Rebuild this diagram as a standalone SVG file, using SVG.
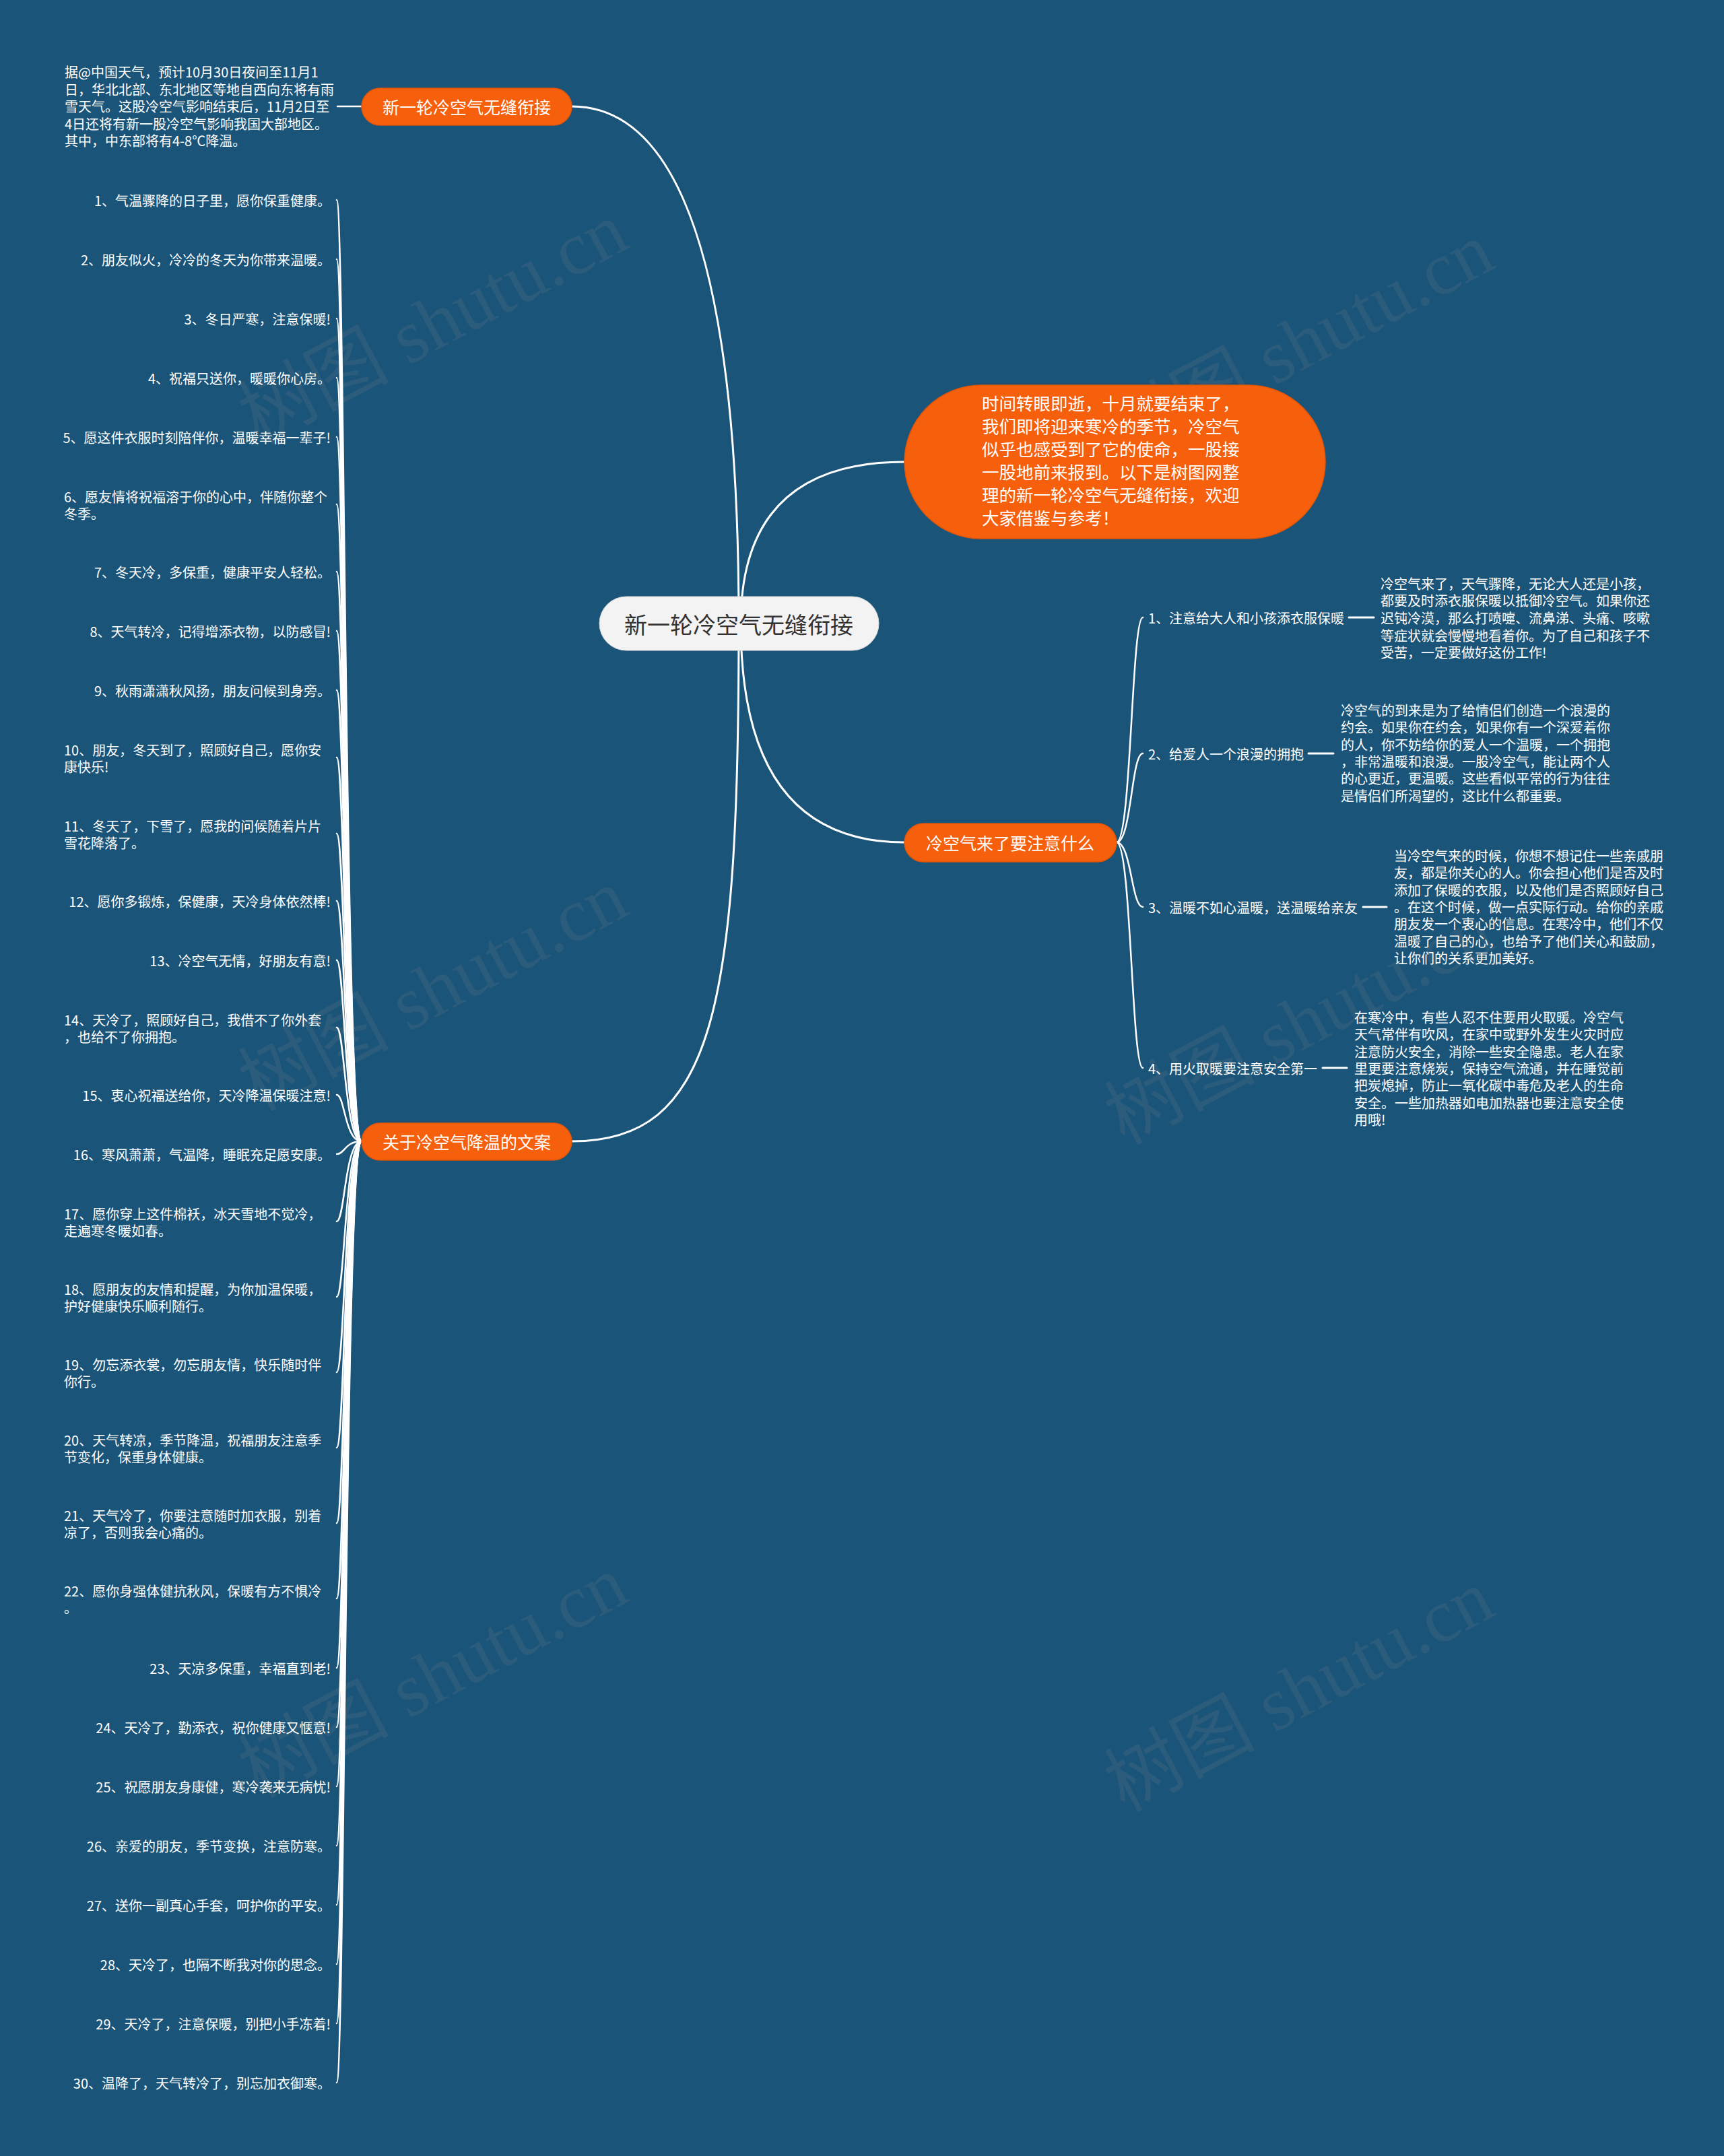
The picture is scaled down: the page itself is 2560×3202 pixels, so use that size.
<svg xmlns="http://www.w3.org/2000/svg" width="2560" height="3202" viewBox="0 0 2560 3202">
<style>
.t{font-family:"Noto Sans CJK SC","Noto Sans",sans-serif;fill:#ffffff}
.s20{font-size:20px}
.e{text-anchor:end}
.m{text-anchor:middle}
.c{dominant-baseline:central}
.ln{fill:none;stroke:#ffffff;stroke-width:2.5;stroke-linecap:round}
.main{stroke-width:3}
.org{fill:#f65f0b;stroke:#e2560a;stroke-width:1.5}
.wm{font-family:"Liberation Serif","Noto Sans CJK SC",serif;font-size:112px;fill:#8a8a8a;opacity:0.15}
</style>
<rect width="2560" height="3202" fill="#1b5479"/>
<g id="watermarks">
<text class="wm m c" transform="translate(643 480) rotate(-28)">树图 shutu.cn</text>
<text class="wm m c" transform="translate(1929 510) rotate(-28)">树图 shutu.cn</text>
<text class="wm m c" transform="translate(643 1470) rotate(-28)">树图 shutu.cn</text>
<text class="wm m c" transform="translate(1929 1520) rotate(-28)">树图 shutu.cn</text>
<text class="wm m c" transform="translate(643 2490) rotate(-28)">树图 shutu.cn</text>
<text class="wm m c" transform="translate(1929 2511) rotate(-28)">树图 shutu.cn</text>
</g>
<g id="connectors" class="ln">
<path class="main" d="M1097 926 Q1097 158 849 158"/>
<path class="main" d="M1100 926 Q1100 686 1343 686"/>
<path class="main" d="M1100 926 Q1100 1251 1343 1251"/>
<path class="main" d="M1097 926 C1097 1500 1060 1695 849 1695"/>
<path d="M537 158 H501"/>
<path d="M537 1695 C512 1695 512 297 500 297"/>
<path d="M537 1695 C512 1695 512 385 500 385"/>
<path d="M537 1695 C512 1695 512 473 500 473"/>
<path d="M537 1695 C512 1695 512 561 500 561"/>
<path d="M537 1695 C512 1695 512 649 500 649"/>
<path d="M537 1695 C512 1695 512 749 500 749"/>
<path d="M537 1695 C512 1695 512 849 500 849"/>
<path d="M537 1695 C512 1695 512 937 500 937"/>
<path d="M537 1695 C512 1695 512 1025 500 1025"/>
<path d="M537 1695 C512 1695 512 1125 500 1125"/>
<path d="M537 1695 C512 1695 512 1238 500 1238"/>
<path d="M537 1695 C512 1695 512 1338 500 1338"/>
<path d="M537 1695 C512 1695 512 1426 500 1426"/>
<path d="M537 1695 C512 1695 512 1526 500 1526"/>
<path d="M537 1695 C512 1695 512 1626 500 1626"/>
<path d="M537 1695 C512 1695 512 1714 500 1714"/>
<path d="M537 1695 C512 1695 512 1814 500 1814"/>
<path d="M537 1695 C512 1695 512 1926 500 1926"/>
<path d="M537 1695 C512 1695 512 2038 500 2038"/>
<path d="M537 1695 C512 1695 512 2150 500 2150"/>
<path d="M537 1695 C512 1695 512 2262 500 2262"/>
<path d="M537 1695 C512 1695 512 2374 500 2374"/>
<path d="M537 1695 C512 1695 512 2477 500 2477"/>
<path d="M537 1695 C512 1695 512 2565 500 2565"/>
<path d="M537 1695 C512 1695 512 2653 500 2653"/>
<path d="M537 1695 C512 1695 512 2741 500 2741"/>
<path d="M537 1695 C512 1695 512 2829 500 2829"/>
<path d="M537 1695 C512 1695 512 2917 500 2917"/>
<path d="M537 1695 C512 1695 512 3005 500 3005"/>
<path d="M537 1695 C512 1695 512 3093 500 3093"/>
<path d="M1658 1251 C1680 1251 1680 917 1697 917"/>
<path d="M1658 1251 C1680 1251 1680 1119 1697 1119"/>
<path d="M1658 1251 C1680 1251 1680 1347 1697 1347"/>
<path d="M1658 1251 C1680 1251 1680 1586 1697 1586"/>
<path class="main" d="M2003 917 H2040"/>
<path class="main" d="M1943 1119 H1980"/>
<path class="main" d="M2024 1347 H2059"/>
<path class="main" d="M1964 1586 H2000"/>
</g>
<g id="center">
<rect x="890" y="886" width="415" height="80" rx="40" fill="#f3f3f3" stroke="#d8d8d8" stroke-width="1"/>
<text class="t m c" x="1097" y="926" font-size="34" style="fill:#333333">新一轮冷空气无缝衔接</text>
</g>
<g id="intro">
<rect class="org" x="1343" y="572" width="625" height="228" rx="114"/>
<text class="t" font-size="25.5" x="1458">
<tspan x="1458" y="609">时间转眼即逝，十月就要结束了，</tspan>
<tspan x="1458" y="643">我们即将迎来寒冷的季节，冷空气</tspan>
<tspan x="1458" y="677">似乎也感受到了它的使命，一股接</tspan>
<tspan x="1458" y="711">一股地前来报到。以下是树图网整</tspan>
<tspan x="1458" y="745">理的新一轮冷空气无缝衔接，欢迎</tspan>
<tspan x="1458" y="779">大家借鉴与参考！</tspan>
</text>
</g>
<g id="branch1">
<rect class="org" x="537" y="131" width="312" height="55" rx="27.5"/>
<text class="t m c" x="693" y="158" font-size="25">新一轮冷空气无缝衔接</text>
</g>
<g id="branch1-text">
<text class="t s20 c">
<tspan x="96" y="106">据@中国天气，预计10月30日夜间至11月1</tspan>
<tspan x="96" y="132">日，华北北部、东北地区等地自西向东将有雨</tspan>
<tspan x="96" y="157">雪天气。这股冷空气影响结束后，11月2日至</tspan>
<tspan x="96" y="183">4日还将有新一股冷空气影响我国大部地区。</tspan>
<tspan x="96" y="208">其中，中东部将有4-8℃降温。</tspan>
</text>
</g>
<g id="branch3">
<rect class="org" x="1343" y="1223" width="315" height="57" rx="28.5"/>
<text class="t m c" x="1500" y="1251" font-size="25">冷空气来了要注意什么</text>
</g>
<g id="branch2">
<rect class="org" x="537" y="1668" width="312" height="55" rx="27.5"/>
<text class="t m c" x="693" y="1695" font-size="25">关于冷空气降温的文案</text>
</g>
<g id="item1"><text class="t s20 e c" x="491" y="297">1、气温骤降的日子里，愿你保重健康。</text></g>
<g id="item2"><text class="t s20 e c" x="491" y="385">2、朋友似火，冷冷的冬天为你带来温暖。</text></g>
<g id="item3"><text class="t s20 e c" x="491" y="473">3、冬日严寒，注意保暖!</text></g>
<g id="item4"><text class="t s20 e c" x="491" y="561">4、祝福只送你，暖暖你心房。</text></g>
<g id="item5"><text class="t s20 e c" x="491" y="649">5、愿这件衣服时刻陪伴你，温暖幸福一辈子!</text></g>
<g id="item6"><text class="t s20 c"><tspan x="95" y="737">6、愿友情将祝福溶于你的心中，伴随你整个</tspan><tspan x="95" y="762">冬季。</tspan></text></g>
<g id="item7"><text class="t s20 e c" x="491" y="849">7、冬天冷，多保重，健康平安人轻松。</text></g>
<g id="item8"><text class="t s20 e c" x="491" y="937">8、天气转冷，记得增添衣物，以防感冒!</text></g>
<g id="item9"><text class="t s20 e c" x="491" y="1025">9、秋雨潇潇秋风扬，朋友问候到身旁。</text></g>
<g id="item10"><text class="t s20 c"><tspan x="95" y="1113">10、朋友，冬天到了，照顾好自己，愿你安</tspan><tspan x="95" y="1138">康快乐!</tspan></text></g>
<g id="item11"><text class="t s20 c"><tspan x="95" y="1226">11、冬天了，下雪了，愿我的问候随着片片</tspan><tspan x="95" y="1251">雪花降落了。</tspan></text></g>
<g id="item12"><text class="t s20 e c" x="491" y="1338">12、愿你多锻炼，保健康，天冷身体依然棒!</text></g>
<g id="item13"><text class="t s20 e c" x="491" y="1426">13、冷空气无情，好朋友有意!</text></g>
<g id="item14"><text class="t s20 c"><tspan x="95" y="1514">14、天冷了，照顾好自己，我借不了你外套</tspan><tspan x="95" y="1539">，也给不了你拥抱。</tspan></text></g>
<g id="item15"><text class="t s20 e c" x="491" y="1626">15、衷心祝福送给你，天冷降温保暖注意!</text></g>
<g id="item16"><text class="t s20 e c" x="491" y="1714">16、寒风萧萧，气温降，睡眠充足愿安康。</text></g>
<g id="item17"><text class="t s20 c"><tspan x="95" y="1802">17、愿你穿上这件棉袄，冰天雪地不觉冷，</tspan><tspan x="95" y="1827">走遍寒冬暖如春。</tspan></text></g>
<g id="item18"><text class="t s20 c"><tspan x="95" y="1914">18、愿朋友的友情和提醒，为你加温保暖，</tspan><tspan x="95" y="1939">护好健康快乐顺利随行。</tspan></text></g>
<g id="item19"><text class="t s20 c"><tspan x="95" y="2026">19、勿忘添衣裳，勿忘朋友情，快乐随时伴</tspan><tspan x="95" y="2051">你行。</tspan></text></g>
<g id="item20"><text class="t s20 c"><tspan x="95" y="2138">20、天气转凉，季节降温，祝福朋友注意季</tspan><tspan x="95" y="2163">节变化，保重身体健康。</tspan></text></g>
<g id="item21"><text class="t s20 c"><tspan x="95" y="2250">21、天气冷了，你要注意随时加衣服，别着</tspan><tspan x="95" y="2275">凉了，否则我会心痛的。</tspan></text></g>
<g id="item22"><text class="t s20 c"><tspan x="95" y="2362">22、愿你身强体健抗秋风，保暖有方不惧冷</tspan><tspan x="95" y="2387">。</tspan></text></g>
<g id="item23"><text class="t s20 e c" x="491" y="2477">23、天凉多保重，幸福直到老!</text></g>
<g id="item24"><text class="t s20 e c" x="491" y="2565">24、天冷了，勤添衣，祝你健康又惬意!</text></g>
<g id="item25"><text class="t s20 e c" x="491" y="2653">25、祝愿朋友身康健，寒冷袭来无病忧!</text></g>
<g id="item26"><text class="t s20 e c" x="491" y="2741">26、亲爱的朋友，季节变换，注意防寒。</text></g>
<g id="item27"><text class="t s20 e c" x="491" y="2829">27、送你一副真心手套，呵护你的平安。</text></g>
<g id="item28"><text class="t s20 e c" x="491" y="2917">28、天冷了，也隔不断我对你的思念。</text></g>
<g id="item29"><text class="t s20 e c" x="491" y="3005">29、天冷了，注意保暖，别把小手冻着!</text></g>
<g id="item30"><text class="t s20 e c" x="491" y="3093">30、温降了，天气转冷了，别忘加衣御寒。</text></g>
<g id="tip1">
<text class="t s20 c" x="1705" y="917">1、注意给大人和小孩添衣服保暖</text>
<text class="t s20 c"><tspan x="2050" y="866">冷空气来了，天气骤降，无论大人还是小孩，</tspan><tspan x="2050" y="891">都要及时添衣服保暖以抵御冷空气。如果你还</tspan><tspan x="2050" y="917">迟钝冷漠，那么打喷嚏、流鼻涕、头痛、咳嗽</tspan><tspan x="2050" y="943">等症状就会慢慢地看着你。为了自己和孩子不</tspan><tspan x="2050" y="968">受苦，一定要做好这份工作!</tspan></text>
</g>
<g id="tip2">
<text class="t s20 c" x="1705" y="1119">2、给爱人一个浪漫的拥抱</text>
<text class="t s20 c"><tspan x="1991" y="1054">冷空气的到来是为了给情侣们创造一个浪漫的</tspan><tspan x="1991" y="1079">约会。如果你在约会，如果你有一个深爱着你</tspan><tspan x="1991" y="1105">的人，你不妨给你的爱人一个温暖，一个拥抱</tspan><tspan x="1991" y="1130">，非常温暖和浪漫。一股冷空气，能让两个人</tspan><tspan x="1991" y="1155">的心更近，更温暖。这些看似平常的行为往往</tspan><tspan x="1991" y="1181">是情侣们所渴望的，这比什么都重要。</tspan></text>
</g>
<g id="tip3">
<text class="t s20 c" x="1705" y="1347">3、温暖不如心温暖，送温暖给亲友</text>
<text class="t s20 c"><tspan x="2070" y="1270">当冷空气来的时候，你想不想记住一些亲戚朋</tspan><tspan x="2070" y="1295">友，都是你关心的人。你会担心他们是否及时</tspan><tspan x="2070" y="1321">添加了保暖的衣服，以及他们是否照顾好自己</tspan><tspan x="2070" y="1346">。在这个时候，做一点实际行动。给你的亲戚</tspan><tspan x="2070" y="1371">朋友发一个衷心的信息。在寒冷中，他们不仅</tspan><tspan x="2070" y="1397">温暖了自己的心，也给予了他们关心和鼓励，</tspan><tspan x="2070" y="1422">让你们的关系更加美好。</tspan></text>
</g>
<g id="tip4">
<text class="t s20 c" x="1705" y="1586">4、用火取暖要注意安全第一</text>
<text class="t s20 c"><tspan x="2011" y="1510">在寒冷中，有些人忍不住要用火取暖。冷空气</tspan><tspan x="2011" y="1535">天气常伴有吹风，在家中或野外发生火灾时应</tspan><tspan x="2011" y="1561">注意防火安全，消除一些安全隐患。老人在家</tspan><tspan x="2011" y="1586">里更要注意烧炭，保持空气流通，并在睡觉前</tspan><tspan x="2011" y="1611">把炭熄掉，防止一氧化碳中毒危及老人的生命</tspan><tspan x="2011" y="1637">安全。一些加热器如电加热器也要注意安全使</tspan><tspan x="2011" y="1662">用哦!</tspan></text>
</g>
</svg>
